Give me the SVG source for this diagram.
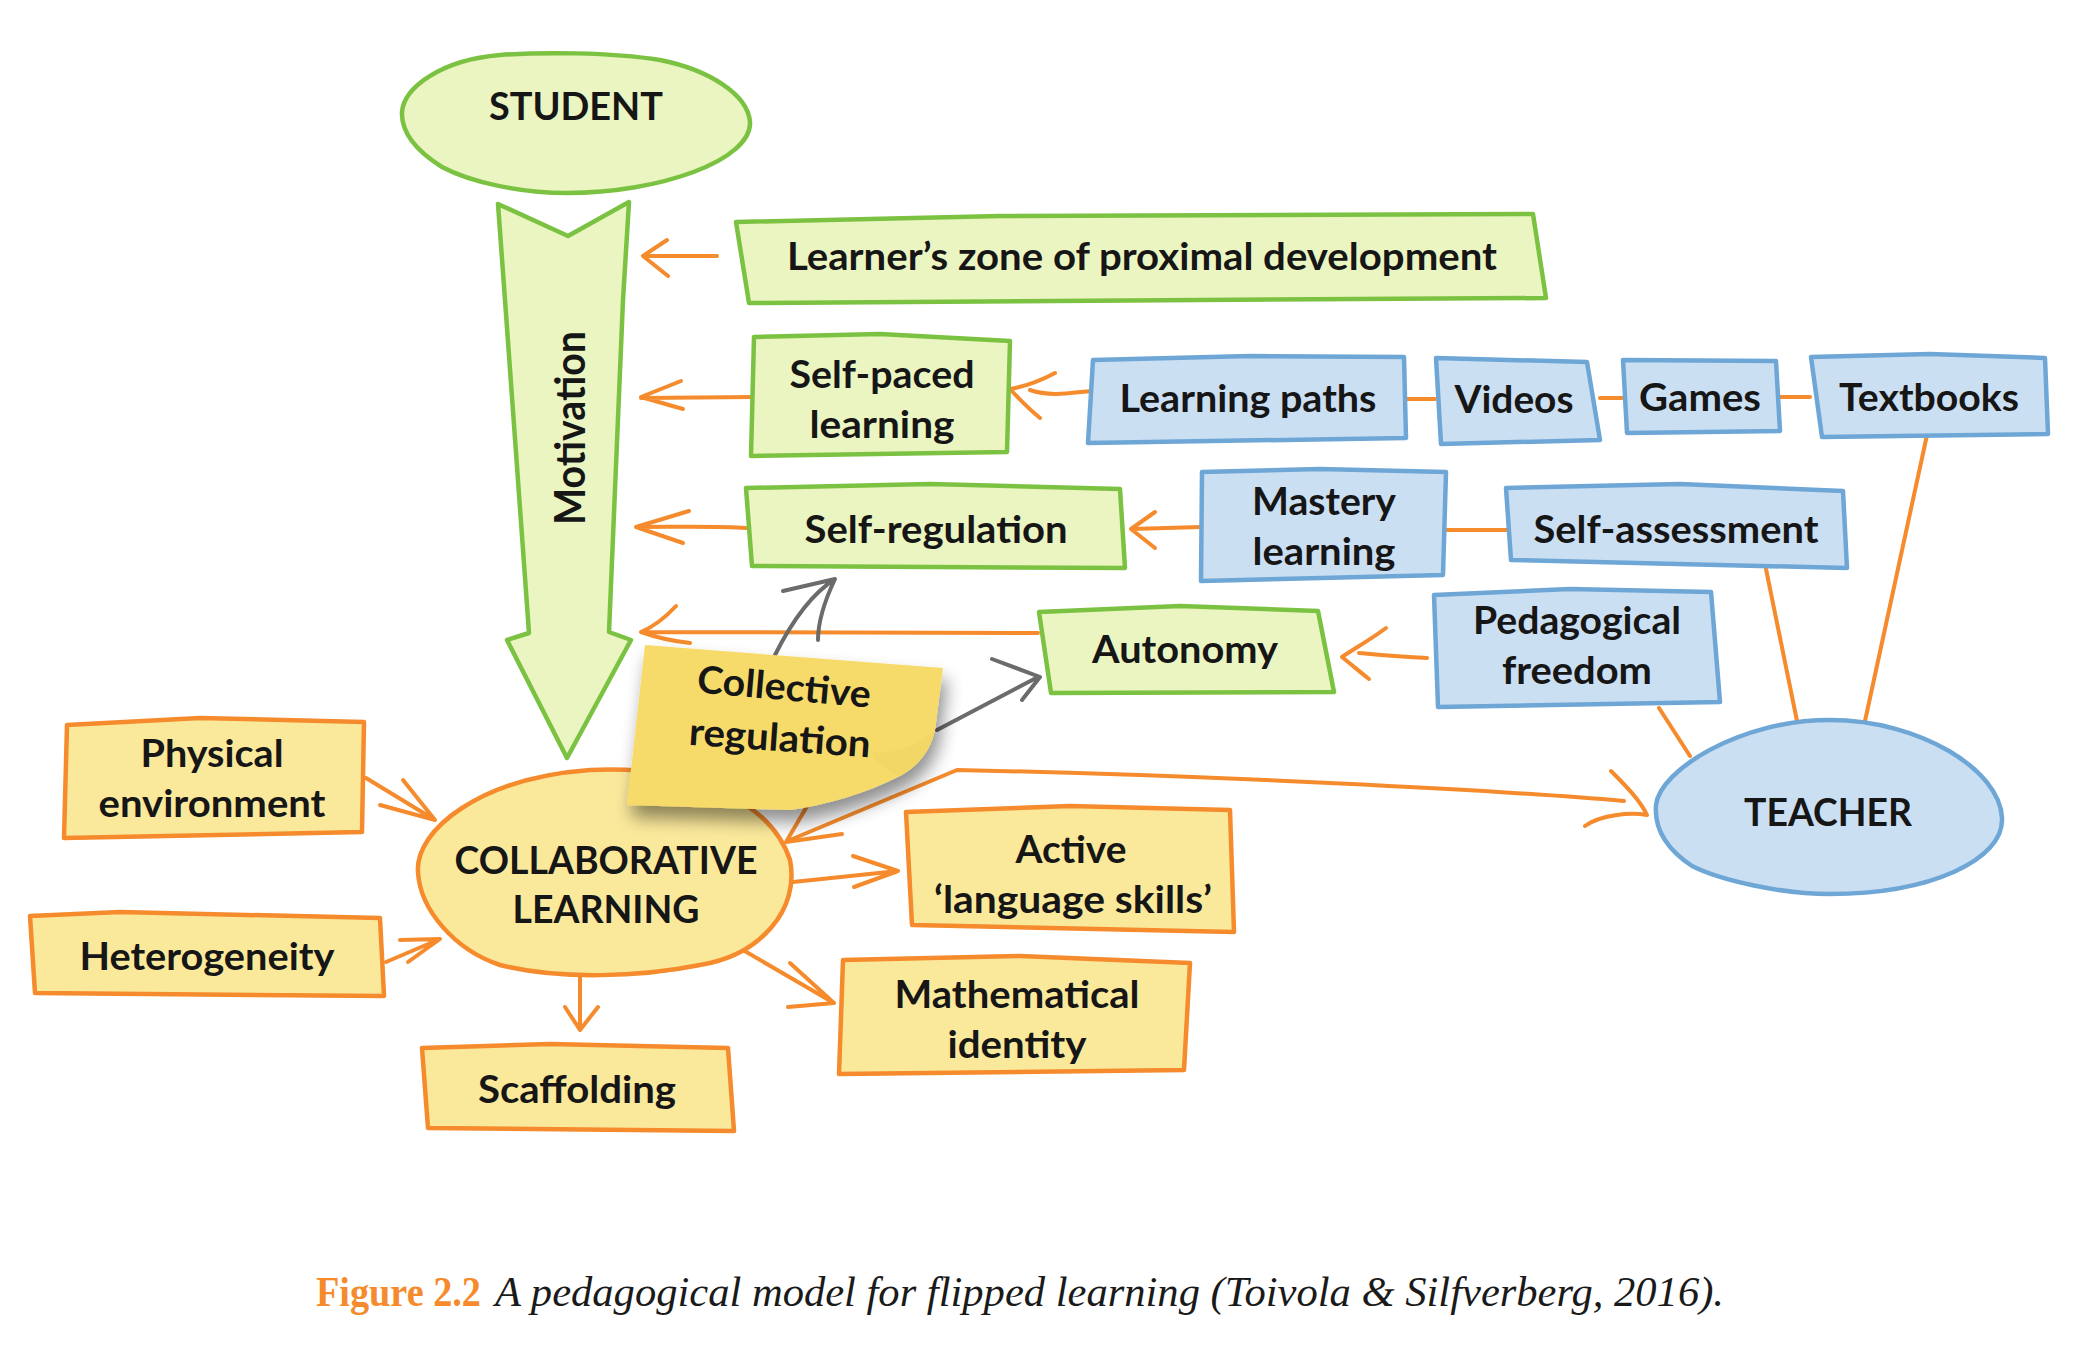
<svg xmlns="http://www.w3.org/2000/svg" width="2099" height="1350" viewBox="0 0 2099 1350">
<style>
.t{font-family:Lato,"Open Sans","Liberation Sans",sans-serif;font-weight:700;font-size:38px;fill:#161616;text-anchor:middle}
.g{fill:#ebf5c1;stroke:#7cc242;stroke-width:4.5;stroke-linejoin:round}
.b{fill:#cbdff3;stroke:#6ea6d6;stroke-width:4.5;stroke-linejoin:round}
.y{fill:#fbe99b;stroke:#f58b2c;stroke-width:4.5;stroke-linejoin:round}
.c{fill:none;stroke:#f58b2c;stroke-width:4;stroke-linecap:round;stroke-linejoin:round}
.k{fill:none;stroke:#6b6b6b;stroke-width:4;stroke-linecap:round;stroke-linejoin:round}
</style>
<defs>
<filter id="sh" x="-20%" y="-20%" width="150%" height="160%">
<feGaussianBlur in="SourceAlpha" stdDeviation="9"/>
<feOffset dx="4" dy="12" result="o"/>
<feComponentTransfer><feFuncA type="linear" slope="0.45"/></feComponentTransfer>
<feMerge><feMergeNode/><feMergeNode in="SourceGraphic"/></feMerge>
</filter>
</defs>
<rect width="2099" height="1350" fill="#ffffff"/>

<g id="connectors">
<path class="c" d="M717,256 L643,256 M667,240 L643,256 L668,276"/>
<path class="c" d="M754,397 L641,398 M681,381 L641,397 L683,409"/>
<path class="c" d="M746,528 C720,526 680,527 636,527 M689,511 L636,527 L683,543"/>
<path class="c" d="M1038,633 L641,632 M676,606 C665,618 655,626 641,632 C655,637 672,641 690,643"/>
<path class="c" d="M1091,391 C1070,393 1050,397 1030,390 M1055,373 C1040,381 1022,387 1010,389 C1020,400 1030,410 1040,418"/>
<path class="c" d="M1406,399 L1435,399 M1600,398 L1622,398 M1778,397 L1810,397"/>
<path class="c" d="M1201,527 L1131,529 M1155,512 L1131,529 L1155,548"/>
<path class="c" d="M1447,530 L1507,530"/>
<path class="c" d="M1427,658 C1400,657 1380,655 1359,653 M1386,628 C1370,640 1352,650 1342,657 C1352,665 1360,672 1369,679"/>
<path class="c" d="M1659,708 L1690,756 M1766,569 L1797,721 M1927,435 L1865,721"/>
<path class="c" d="M1624,801 C1500,790 1200,775 957,770 L790,840 M1611,771 C1625,785 1640,800 1647,815 C1630,812 1600,815 1585,826 M842,834 L786,842 L806,808"/>
<path class="c" d="M366,778 L435,820 M403,780 L435,820 L380,805"/>
<path class="c" d="M386,962 L440,939 M400,940 L440,939 L408,962"/>
<path class="c" d="M580,975 L580,1030 M565,1007 L580,1030 L598,1007"/>
<path class="c" d="M793,882 L898,871 M853,856 L898,871 L854,887"/>
<path class="c" d="M743,950 L834,1003 M790,963 L834,1003 L788,1007"/>
<path class="k" d="M775,655 C790,625 810,595 835,579 M783,591 L835,579 C825,600 818,620 818,640"/>
<path class="k" d="M937,730 L1038,677 M992,659 L1040,677 L1022,700"/>
</g>

<g id="student">
<path class="g" d="M402,112 C404,88 440,60 500,55 C540,52 610,52 660,60 C710,70 748,95 750,122 C752,160 660,193 567,193 C520,193 470,182 442,167 C418,152 401,134 402,112 Z"/>
<text class="t" x="576" y="120" textLength="174" lengthAdjust="spacingAndGlyphs">STUDENT</text>
</g>

<g id="motivation">
<path class="g" d="M498,204 L568,236 L629,202 L623,300 L609,632 L631,640 L567,758 L507,640 L529,633 L505,300 Z"/>
<text class="t" transform="translate(585,428) rotate(-90)" style="font-size:42px" textLength="194" lengthAdjust="spacingAndGlyphs">Motivation</text>
</g>

<g id="zpd">
<path class="g" d="M736,222 L1000,216 L1533,214 L1546,298 L1200,300 L749,303 Z"/>
<text class="t" x="1142" y="270" textLength="710" lengthAdjust="spacingAndGlyphs">Learner’s zone of proximal development</text>
</g>

<g id="selfpaced">
<path class="g" d="M754,337 L880,334 L1010,341 L1007,452 L751,456 Z"/>
<text class="t" x="882" y="388" textLength="185" lengthAdjust="spacingAndGlyphs">Self-paced</text>
<text class="t" x="882" y="438" textLength="145" lengthAdjust="spacingAndGlyphs">learning</text>
</g>

<g id="learningpaths">
<path class="b" d="M1093,360 L1250,356 L1404,357 L1406,438 L1088,443 Z"/>
<text class="t" x="1248" y="412" textLength="257" lengthAdjust="spacingAndGlyphs">Learning paths</text>
</g>

<g id="videos">
<path class="b" d="M1436,358 L1587,362 L1600,440 L1441,444 Z"/>
<text class="t" x="1514" y="413" textLength="119" lengthAdjust="spacingAndGlyphs">Videos</text>
</g>

<g id="games">
<path class="b" d="M1623,360 L1776,361 L1780,431 L1627,433 Z"/>
<text class="t" x="1700" y="411" textLength="122" lengthAdjust="spacingAndGlyphs">Games</text>
</g>

<g id="textbooks">
<path class="b" d="M1811,357 L1930,354 L2045,358 L2048,434 L1822,437 Z"/>
<text class="t" x="1929" y="411" textLength="180" lengthAdjust="spacingAndGlyphs">Textbooks</text>
</g>

<g id="selfregulation">
<path class="g" d="M746,488 L930,484 L1120,489 L1125,568 L752,566 Z"/>
<text class="t" x="936" y="543" textLength="263" lengthAdjust="spacingAndGlyphs">Self-regulation</text>
</g>

<g id="mastery">
<path class="b" d="M1202,472 L1320,469 L1446,472 L1443,575 L1201,581 Z"/>
<text class="t" x="1324" y="515" textLength="144" lengthAdjust="spacingAndGlyphs">Mastery</text>
<text class="t" x="1324" y="565" textLength="143" lengthAdjust="spacingAndGlyphs">learning</text>
</g>

<g id="selfassessment">
<path class="b" d="M1506,488 L1680,484 L1843,491 L1847,568 L1511,560 Z"/>
<text class="t" x="1676" y="543" textLength="285" lengthAdjust="spacingAndGlyphs">Self-assessment</text>
</g>

<g id="pedagogical">
<path class="b" d="M1434,595 L1570,589 L1711,592 L1720,702 L1438,707 Z"/>
<text class="t" x="1577" y="634" textLength="208" lengthAdjust="spacingAndGlyphs">Pedagogical</text>
<text class="t" x="1577" y="684" textLength="150" lengthAdjust="spacingAndGlyphs">freedom</text>
</g>

<g id="autonomy">
<path class="g" d="M1039,612 L1180,606 L1318,611 L1334,692 L1051,693 Z"/>
<text class="t" x="1185" y="663" textLength="186" lengthAdjust="spacingAndGlyphs">Autonomy</text>
</g>

<g id="teacher">
<path class="b" d="M1656,805 C1660,770 1740,720 1830,720 C1920,720 2000,770 2002,818 C2004,860 1930,894 1830,894 C1780,894 1720,880 1692,866 C1668,850 1654,830 1656,805 Z"/>
<text class="t" x="1828" y="826" textLength="168" lengthAdjust="spacingAndGlyphs">TEACHER</text>
</g>

<g id="collaborative">
<path class="y" d="M418,872 C415,830 480,778 590,770 C690,765 770,800 790,860 C800,910 760,955 700,965 C640,977 560,980 500,965 C455,950 420,910 418,872 Z"/>
<text class="t" x="606" y="874" textLength="303" lengthAdjust="spacingAndGlyphs">COLLABORATIVE</text>
<text class="t" x="606" y="923" textLength="187" lengthAdjust="spacingAndGlyphs">LEARNING</text>
</g>

<g id="collective">
<path d="M645,645 L943,668 L935,730 C930,752 918,766 900,776 C862,795 825,805 790,810 L627,805 Z" fill="#f7db6a" filter="url(#sh)"/>
<path d="M935,730 C930,752 918,766 900,776 C880,768 875,760 872,752 C895,755 918,745 935,730 Z" fill="#f3d766"/>
<g transform="rotate(5 783 700)">
<text class="t" x="783" y="700" textLength="174" lengthAdjust="spacingAndGlyphs">Collective</text>
</g>
<g transform="rotate(4 779 751)">
<text class="t" x="779" y="751" textLength="182" lengthAdjust="spacingAndGlyphs">regulation</text>
</g>
</g>

<g id="physical">
<path class="y" d="M67,725 L200,718 L364,722 L362,832 L64,838 Z"/>
<text class="t" x="212" y="767" textLength="143" lengthAdjust="spacingAndGlyphs">Physical</text>
<text class="t" x="212" y="817" textLength="227" lengthAdjust="spacingAndGlyphs">environment</text>
</g>

<g id="heterogeneity">
<path class="y" d="M30,916 L120,912 L380,918 L384,996 L35,993 Z"/>
<text class="t" x="207" y="970" textLength="255" lengthAdjust="spacingAndGlyphs">Heterogeneity</text>
</g>

<g id="scaffolding">
<path class="y" d="M422,1048 L550,1044 L728,1048 L734,1131 L428,1128 Z"/>
<text class="t" x="577" y="1103" textLength="198" lengthAdjust="spacingAndGlyphs">Scaffolding</text>
</g>

<g id="active">
<path class="y" d="M906,812 L1070,806 L1230,810 L1234,932 L912,925 Z"/>
<text class="t" x="1071" y="863" textLength="111" lengthAdjust="spacingAndGlyphs">Active</text>
<text class="t" x="1073" y="913" textLength="278" lengthAdjust="spacingAndGlyphs">‘language skills’</text>
</g>

<g id="mathematical">
<path class="y" d="M843,960 L1020,956 L1190,963 L1184,1070 L839,1074 Z"/>
<text class="t" x="1017" y="1008" textLength="245" lengthAdjust="spacingAndGlyphs">Mathematical</text>
<text class="t" x="1017" y="1058" textLength="139" lengthAdjust="spacingAndGlyphs">identity</text>
</g>

<g id="caption">
<text x="316" y="1306" style="font-family:'Liberation Serif',serif;font-weight:bold;font-size:42px;fill:#f58b2c" textLength="165" lengthAdjust="spacingAndGlyphs">Figure 2.2</text>
<text x="495" y="1306" style="font-family:'Liberation Serif',serif;font-style:italic;font-size:42px;fill:#1a1a1a" textLength="1229" lengthAdjust="spacingAndGlyphs">A pedagogical model for flipped learning (Toivola &amp; Silfverberg, 2016).</text>
</g>
</svg>
